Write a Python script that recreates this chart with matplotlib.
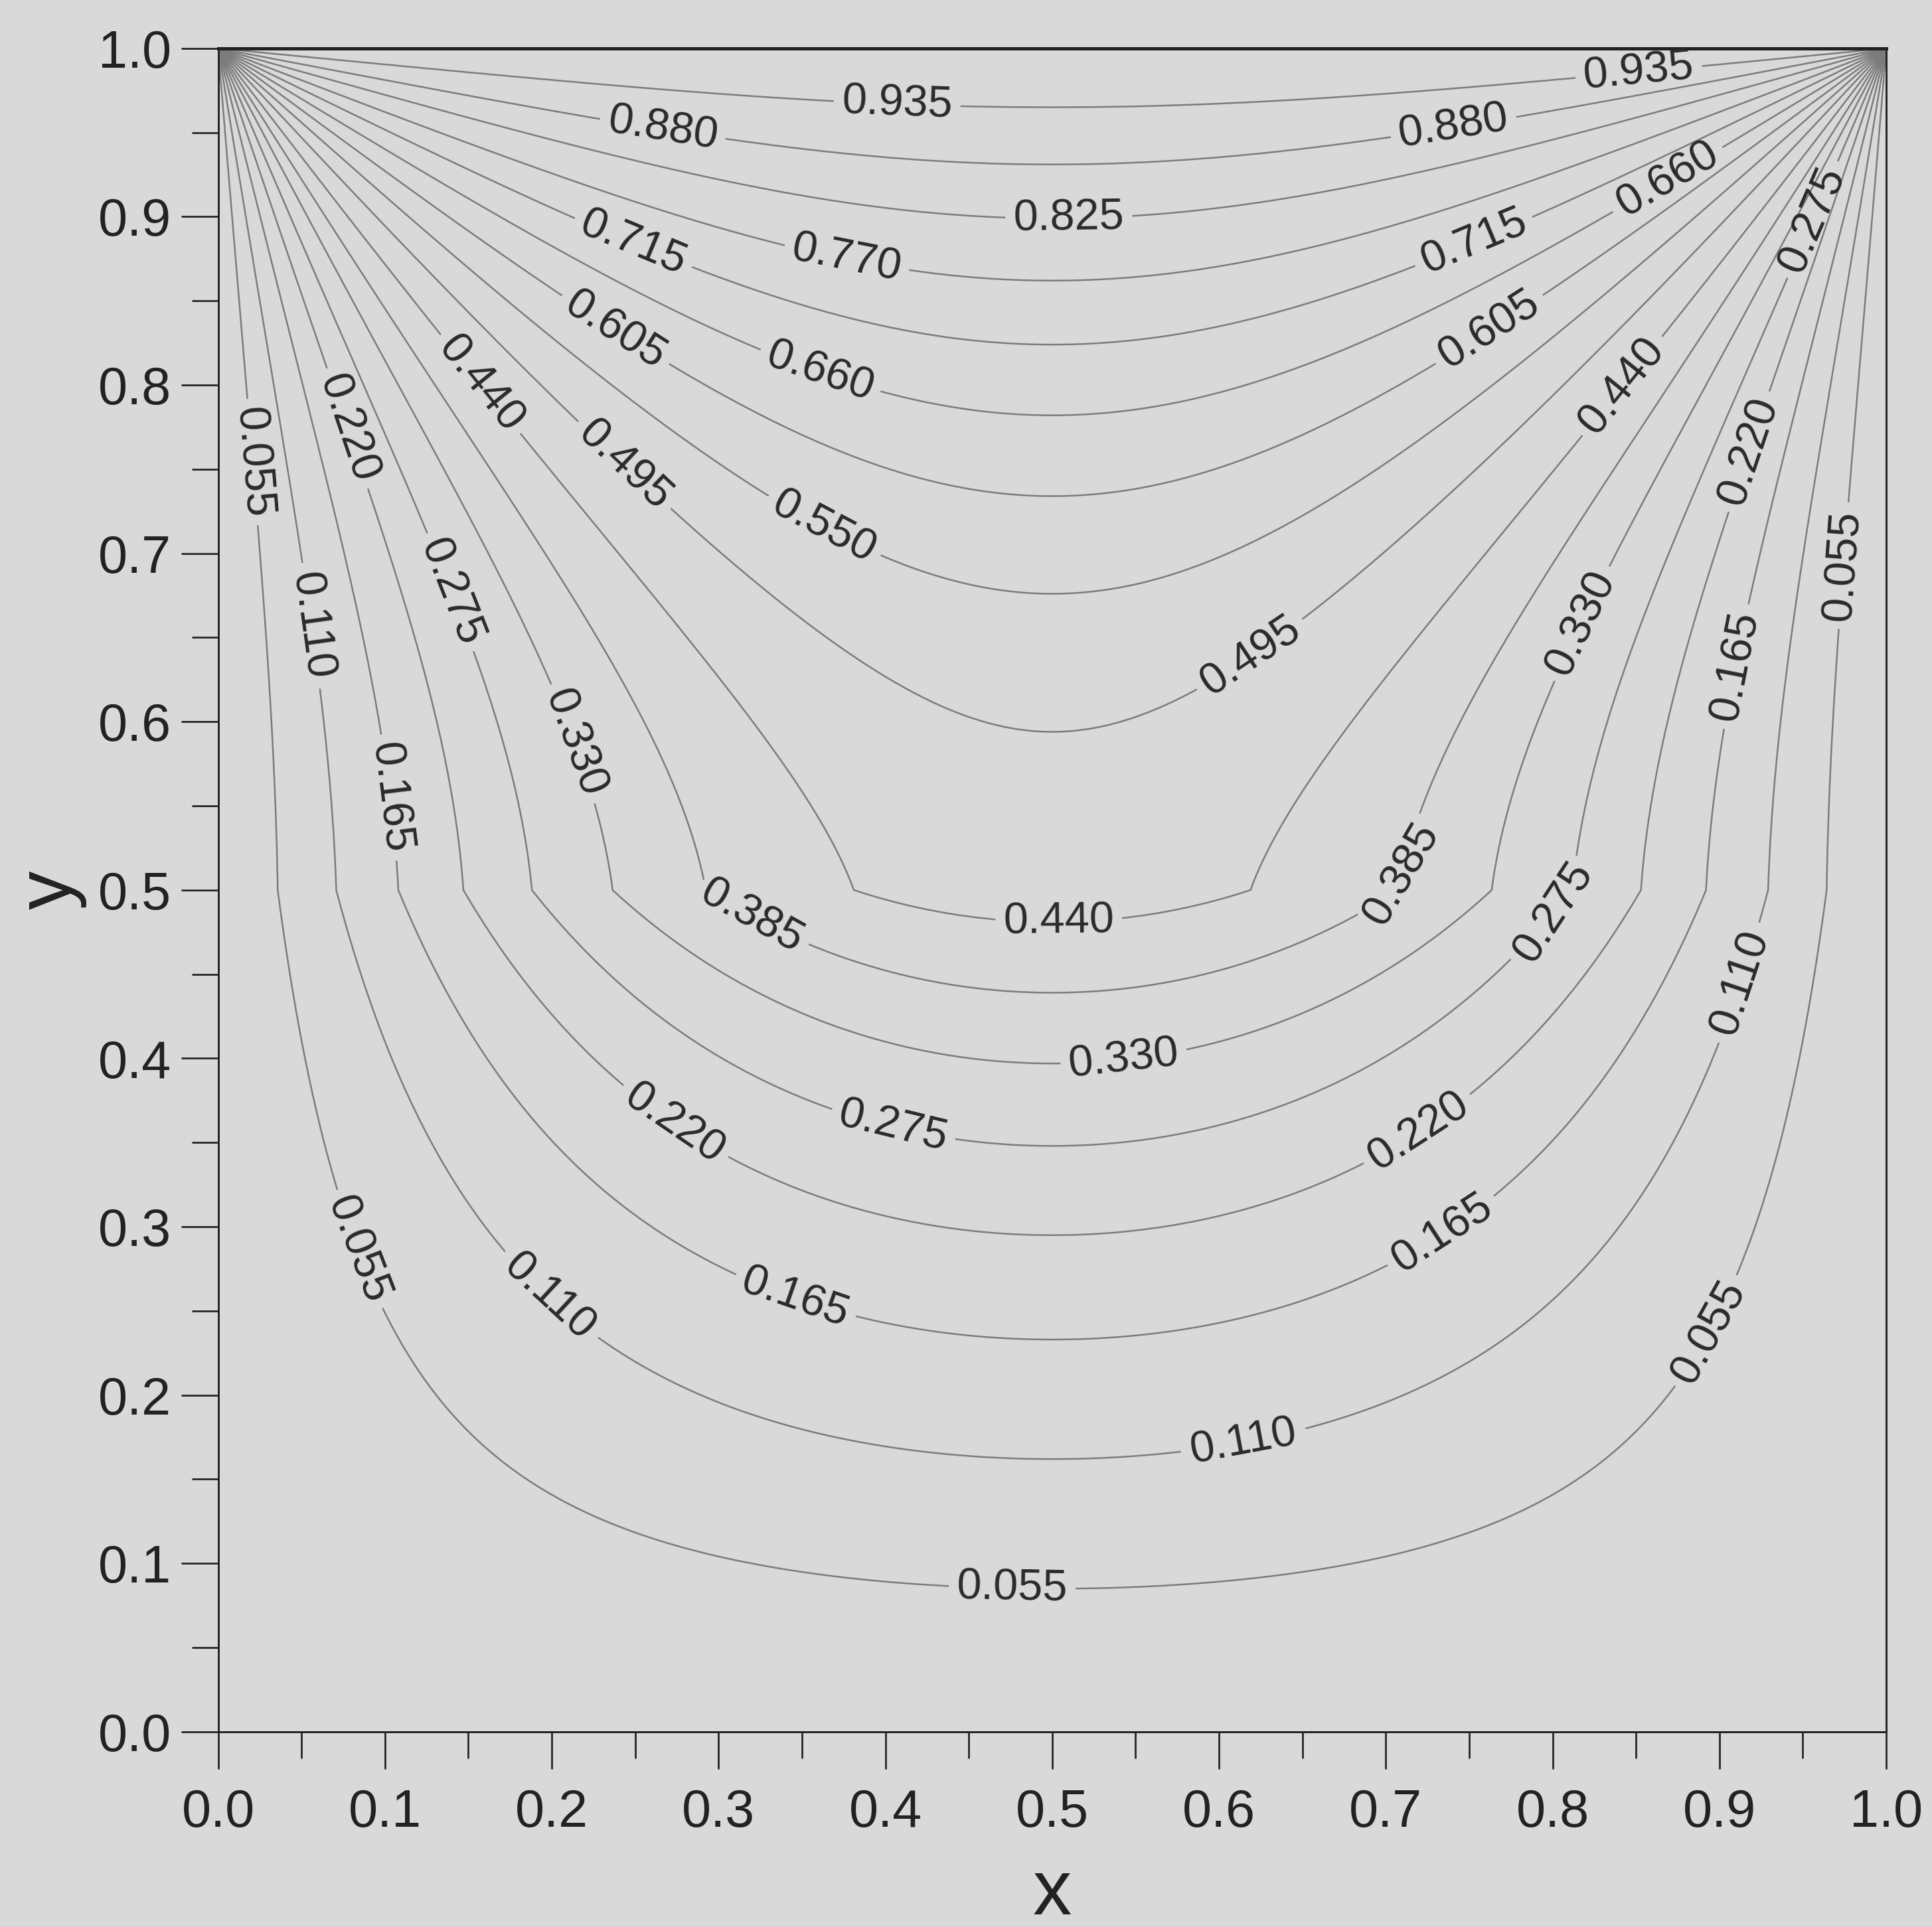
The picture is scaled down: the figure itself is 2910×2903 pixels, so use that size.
import numpy as np
import matplotlib.pyplot as plt

# contour levels and where each one crosses the centre line x = 0.5
levels = [0.055, 0.110, 0.165, 0.220, 0.275, 0.330, 0.385, 0.440, 0.495,
          0.550, 0.605, 0.660, 0.715, 0.770, 0.825, 0.880, 0.935]
center_y = [0.085, 0.162, 0.233, 0.295, 0.348, 0.397, 0.439, 0.481, 0.594,
            0.676, 0.734, 0.782, 0.824, 0.862, 0.899, 0.931, 0.965]

# two-layer cavity: interface height and conductivity ratio lower/upper
interface_y = 0.5
k_ratio = 0.12

# where the inline labels sit in the figure
LABEL_SPOTS = {
    0.055: [(0.019, 0.754), (0.984, 0.692), (0.083, 0.286), (0.900, 0.234), (0.476, 0.083)],
    0.110: [(0.056, 0.657), (0.918, 0.443), (0.202, 0.262), (0.615, 0.171)],
    0.165: [(0.103, 0.555), (0.914, 0.632), (0.346, 0.258), (0.736, 0.293)],
    0.220: [(0.080, 0.775), (0.922, 0.759), (0.274, 0.362), (0.722, 0.353)],
    0.275: [(0.145, 0.679), (0.961, 0.896), (0.798, 0.489), (0.405, 0.361)],
    0.330: [(0.219, 0.589), (0.818, 0.658), (0.543, 0.399)],
    0.385: [(0.326, 0.495), (0.698, 0.512)],
    0.440: [(0.163, 0.805), (0.841, 0.800), (0.504, 0.478)],
    0.495: [(0.248, 0.757), (0.619, 0.639)],
    0.550: [(0.365, 0.719)],
    0.605: [(0.241, 0.837), (0.764, 0.830)],
    0.660: [(0.362, 0.811), (0.872, 0.917)],
    0.715: [(0.250, 0.887), (0.758, 0.873)],
    0.770: [(0.377, 0.876)],
    0.825: [(0.510, 0.897)],
    0.880: [(0.267, 0.955), (0.741, 0.951)],
    0.935: [(0.407, 0.967), (0.852, 0.982)],
}

BG = "#d9d9d9"
plt.rcParams["font.family"] = ["Liberation Sans", "DejaVu Sans"]


def two_layer(x, y, h=interface_y, kap=k_ratio, nterms=2000):
    """Steady conduction in the unit square, hot lid (T=1), cold sides and bottom,
    lower layer (y < h) with conductivity kap times the upper one. Sine series."""
    n = 2 * np.arange(nterms) + 1.0
    m = n * np.pi
    xpart = (4.0 / m) * np.sin(np.outer(x, m))                     # (nx, nt)
    mm = m[:, None]
    yy = np.asarray(y, dtype=float)[None, :]
    eh = np.exp(-2 * mm * h)
    F1 = (1 - eh) * (1 + np.exp(-2 * mm * (1 - h))) + kap * (1 + eh) * (1 - np.exp(-2 * mm * (1 - h)))
    du = np.maximum(yy - h, 0.0)
    Fy = (1 - eh) * (1 + np.exp(-2 * mm * du)) + kap * (1 + eh) * (1 - np.exp(-2 * mm * du))
    g_up = np.exp(mm * (yy - 1)) * Fy / F1
    g_lo = 2 * np.exp(mm * (yy - 1)) * (1 - np.exp(-2 * mm * yy)) / F1
    g = np.where(yy >= h, g_up, g_lo)                               # (nt, ny)
    return (xpart @ g).T                                            # (ny, nx)


xs = np.linspace(0, 1, 801)
ys = np.linspace(0, 1, 801)
model = two_layer(xs, ys)
model[-1, 1:-1] = 1.0
model[-1, 0] = model[-1, -1] = 0.5

# small relabel so every level passes through its centre-line reading
model_c = two_layer(np.array([0.5]), np.array(center_y))[:, 0]
T = np.interp(model, np.r_[0.0, model_c, 1.0], np.r_[0.0, levels, 1.0])

fig = plt.figure(figsize=(9.70, 9.677), dpi=300, facecolor=BG)
ax = fig.add_axes([0.1129, 0.1013, 0.8634, 0.8736], facecolor=BG)

cs = ax.contour(xs, ys, T, levels=levels, colors="#7c7c7c", linewidths=0.6)
# set up label styling once, then snap each label only to its own level
cs.clabel(manual=[], inline=True, fmt="%.3f", fontsize=16, colors="#2a2a2a")
for i, lev in enumerate(levels):
    cs.labelIndiceList = [i]
    for (lx, ly) in LABEL_SPOTS[lev]:
        cs.add_label_near(lx, ly, inline=True, inline_spacing=12)

ax.set_xlim(0, 1)
ax.set_ylim(0, 1)
ax.set_xticks(np.linspace(0, 1, 11))
ax.set_yticks(np.linspace(0, 1, 11))
ax.set_xticks(np.linspace(0.05, 0.95, 10), minor=True)
ax.set_yticks(np.linspace(0.05, 0.95, 10), minor=True)
ax.tick_params(which="both", direction="out", width=0.65, colors="#222222",
               labelsize=19, top=False, right=False)
ax.tick_params(which="major", length=13.5)
ax.tick_params(which="minor", length=9.5)
ax.tick_params(axis="x", pad=7)
ax.tick_params(axis="y", pad=3.5)

for side in ["left", "bottom", "right"]:
    ax.spines[side].set_linewidth(0.7)
    ax.spines[side].set_color("#222222")
ax.spines["top"].set_linewidth(1.2)
ax.spines["top"].set_color("#222222")

ax.set_xlabel("x", fontsize=28, labelpad=7, color="#222222")
ax.set_ylabel("y", fontsize=28, labelpad=4, color="#222222")

fig.savefig("out.png", dpi=300, facecolor=BG)
